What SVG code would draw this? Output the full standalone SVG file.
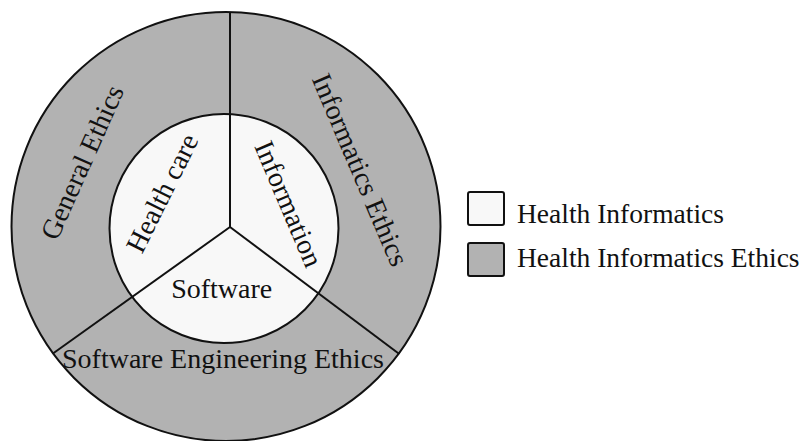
<svg xmlns="http://www.w3.org/2000/svg" width="806" height="441" viewBox="0 0 806 441">
<style>
.ln{stroke:#111;stroke-width:2;fill:none}
.gray{fill:#b2b2b2}
.light{fill:#f8f8f8}
.t{font-family:"Liberation Serif","Times New Roman",serif;font-size:28px;fill:#111}
.lg{font-family:"Liberation Serif","Times New Roman",serif;font-size:27.5px;fill:#111}
</style>
<rect width="806" height="441" fill="#ffffff"/>
<g id="outer-ring">
<circle cx="226" cy="226.5" r="214.5" class="gray" stroke="#111" stroke-width="2"/>
</g>
<g id="inner-circle">
<circle cx="224" cy="228.5" r="114.5" class="light" stroke="#111" stroke-width="2"/>
</g>
<g id="connectors">
<line class="ln" x1="230" y1="227" x2="230" y2="12"/>
<line class="ln" x1="230" y1="227" x2="53.3" y2="353.3"/>
<line class="ln" x1="230" y1="227" x2="399.3" y2="354"/>
</g>
<g id="general-ethics">
<text class="t" text-anchor="middle" transform="translate(82.5,162.5) rotate(-66)" y="9">General Ethics</text>
</g>
<g id="informatics-ethics">
<text class="t" text-anchor="middle" transform="translate(360,170) rotate(67)" y="9">Informatics Ethics</text>
</g>
<g id="software-engineering-ethics">
<text class="t" text-anchor="middle" x="223" y="368">Software Engineering Ethics</text>
</g>
<g id="health-care">
<text class="t" text-anchor="middle" transform="translate(162.5,193.3) rotate(-63.5)" y="9">Health care</text>
</g>
<g id="information">
<text class="t" text-anchor="middle" transform="translate(288.3,204) rotate(67)" y="9">Information</text>
</g>
<g id="software">
<text class="t" text-anchor="middle" x="221.7" y="298">Software</text>
</g>
<g id="legend">
<rect x="468" y="192" width="36" height="33" rx="2" class="light" stroke="#111" stroke-width="2"/>
<text class="lg" x="517" y="223">Health Informatics</text>
<rect x="468" y="243" width="36" height="33" rx="2" class="gray" stroke="#111" stroke-width="2"/>
<text class="lg" x="517" y="267">Health Informatics Ethics</text>
</g>
</svg>
